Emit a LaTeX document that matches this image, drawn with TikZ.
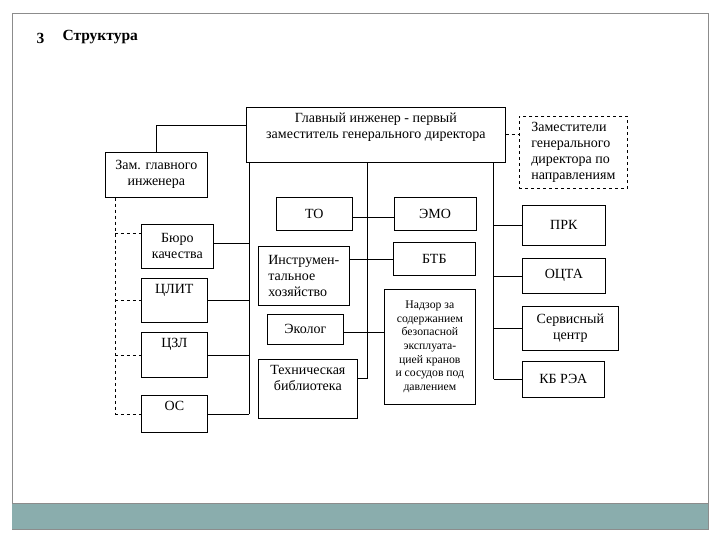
\documentclass[tikz,border=0pt]{standalone}
\usepackage{fontspec}
\setmainfont{Liberation Serif}
\usetikzlibrary{positioning}
\definecolor{band}{HTML}{8AADAD}
\definecolor{framec}{HTML}{8C8C8C}

\begin{document}
\begin{tikzpicture}[
  x=1bp, y=-1bp,
  font=\fontsize{14bp}{16bp}\selectfont,
  sz/.style n args = {2}{minimum width=#1bp, minimum height=#2bp},
  box/.style    = {draw, line width=.7pt, inner sep=2pt, align=center, anchor=north west},
  dbox/.style   = {box, dashed},
  toplbl/.style = {anchor=north, inner sep=4pt, yshift=-2bp, align=center},
  ln/.style     = {line width=.7pt},
  dl/.style     = {ln, dashed},
]
\useasboundingbox (0,0) rectangle (720,540);

% slide frame and footer band
\draw[framec, line width=.8pt] (12,13) rectangle (708,529);
\fill[band] (12,503) rectangle (708,529);
\draw[framec, line width=.8pt] (12,503) -- (708,503);

% heading
\node[anchor=west, font=\fontsize{15.5bp}{17bp}\selectfont\bfseries] (num) at (33,38) {3};
\node[anchor=west, font=\fontsize{15.5bp}{17bp}\selectfont\bfseries] (ttl) at (59,37) {Структура};

% top level
\node[box, sz={259}{55},
      label={[toplbl]north:Главный инженер - первый\\заместитель генерального директора}]
      (main) at (246,107) {};
\node[dbox, sz={108}{72}, align=left] (dep) at (519,116)
      {Заместители\\генерального\\директора по\\направлениям};
\draw[dl] (main.east) -- (main.east -| dep.west);

% left branch
\node[box, sz={102}{45}] (zam) at (105,152) {Зам. главного\\инженера};
\node[box, sz={72}{44}] (buro) at (141,224) {Бюро\\качества};
\node[box, sz={66}{44}, label={[toplbl]north:ЦЛИТ}] (clit) at (141,278) {};
\node[box, sz={66}{45}, label={[toplbl]north:ЦЗЛ}] (czl) at (141,332) {};
\node[box, sz={66}{37}, label={[toplbl]north:ОС}] (os) at (141,395) {};

\draw[ln] (zam.north) |- ([yshift=9bp]main.west);
\coordinate (lb) at ([xshift=3bp]main.south west);
\draw[ln] (lb) -- (lb |- os.east);
\draw[ln] ([yshift=3bp]buro.east) -- ([yshift=3bp]buro.east -| lb);
\foreach \n in {clit,czl,os}
  \draw[ln] (\n.east) -- (\n.east -| lb);

\coordinate (db) at ([xshift=10bp]zam.south west);
\draw[dl] (db) -- (db |- os.west);
\draw[dl] ([yshift=13bp]buro.west -| db) -- ([yshift=13bp]buro.west);
\foreach \n in {clit,czl,os}
  \draw[dl] (\n.west -| db) -- (\n.west);

% middle branch
\node[box, sz={76}{33}] (to) at (276,197) {ТО};
\node[box, sz={82}{33}, right=41bp of to] (emo) {ЭМО};
\node[box, sz={91}{59}, align=left] (instr) at (258,246) {Инструмен-\\тальное\\хозяйство};
\node[box, sz={82}{33}] (btb) at (393,242) {БТБ};
\node[box, sz={76}{30}] (eko) at (267,314) {Эколог};
\node[box, sz={99}{59}, label={[toplbl]north:Техническая\\библиотека}] (lib) at (258,359) {};
\node[box, sz={91}{115}, font=\fontsize{11.7bp}{13.7bp}\selectfont] (nadz) at (384,289)
      {Надзор за\\содержанием\\безопасной\\эксплуата-\\цией кранов\\и сосудов под\\давлением};

\coordinate (cb) at ([xshift=-9bp]main.south);
\draw[ln] (cb) |- ([yshift=11bp]lib.east);
\draw[ln] ([yshift=-4bp]to.east) -- ([yshift=-4bp]emo.west);
\draw[ln] (btb.west -| instr.east) -- (btb.west);
\draw[ln] ([yshift=-3bp]eko.east) -- ([yshift=-3bp]eko.east -| nadz.west);

% right branch
\node[box, sz={83}{40}] (prk) at (522,205) {ПРК};
\node[box, sz={83}{35}] (octa) at (522,258) {ОЦТА};
\node[box, sz={96}{44}] (serv) at (522,306) {Сервисный\\центр};
\node[box, sz={82}{36}] (kb) at (522,361) {КБ РЭА};

\coordinate (rb) at ([xshift=-12bp]main.south east);
\draw[ln] (rb) -- (rb |- kb.west);
\foreach \n in {prk,octa,serv,kb}
  \draw[ln] (\n.west -| rb) -- (\n.west);
\end{tikzpicture}
\end{document}
